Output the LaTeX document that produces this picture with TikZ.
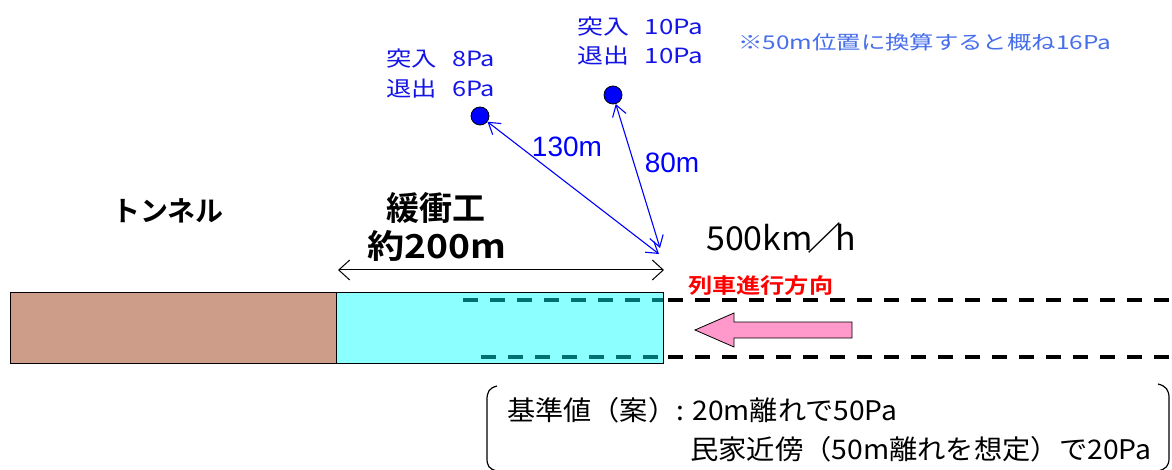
\documentclass[tikz,border=0pt]{standalone}
\usepackage{fontspec}
\setmainfont{Liberation Sans}
\newfontfamily\jp{Noto Sans CJK JP}[BoldFont={Noto Sans CJK JP Bold}]
\usetikzlibrary{arrows.meta}
\definecolor{tunnelc}{RGB}{205,157,137}
\definecolor{bufferc}{RGB}{140,255,255}
\definecolor{tealc}{RGB}{0,112,112}
\definecolor{lblue}{RGB}{20,20,230}
\definecolor{nblue}{RGB}{70,110,235}
\definecolor{pinkc}{RGB}{255,153,204}
\definecolor{redc}{RGB}{255,0,0}
\newcommand{\fitw}[3]{\resizebox{#1}{\height}{\jp\fontsize{#2}{#2}\selectfont #3}}
\tikzset{
  blockbox/.style={draw=black, line width=1pt, inner sep=0pt, anchor=north west},
  dashln/.style={line width=4pt, dash pattern=on 15pt off 12pt},
  lbl/.style={inner sep=0pt, anchor=west, text=lblue},
  dist/.style={inner sep=0pt, text=blue, font=\fontsize{28}{28}\selectfont},
  dot/.style={circle, draw=black, fill=blue, line width=0.8pt, minimum size=18pt, inner sep=0pt},
  distarrow/.style={blue, line width=1.1pt, {Straight Barb[length=11pt,width=14pt]}-{Straight Barb[length=11pt,width=14pt]}},
  bigjp/.style={inner sep=0pt, anchor=center, font=\jp\bfseries\fontsize{33}{33}\selectfont},
}
\begin{document}
\begin{tikzpicture}[x=1pt,y=-1pt]
\useasboundingbox (0,0) rectangle (1172,470);
\fill[white] (0,0) rectangle (1172,470);
% tunnel and buffer
\node[blockbox, fill=tunnelc, minimum width=326pt, minimum height=71pt] (tunnel) at (10,292) {};
\node[blockbox, fill=bufferc, minimum width=327pt, minimum height=71pt] (buffer) at (336,292) {};
% track lines
\coordinate (t1) at (463,300); \coordinate (t2) at (663,300);
\coordinate (t3) at (668,300); \coordinate (t4) at (1172,300);
\coordinate (b1) at (481,357); \coordinate (b2) at (663,357);
\coordinate (b3) at (668,357); \coordinate (b4) at (1172,357);
\draw[dashln, tealc] (t1) -- (t2);
\draw[dashln, tealc] (b1) -- (b2);
\draw[dashln, black] (t3) -- (t4);
\draw[dashln, black] (b3) -- (b4);
% pink arrow
\draw[fill=pinkc, draw=black, line width=0.8pt]
  (852,322) -- (734,322) -- (734,313) -- (695,330) -- (734,347) -- (734,338) -- (852,338) -- cycle;
\node[inner sep=0pt, text=redc, anchor=west] (dir) at (688,286)
  {\resizebox{145pt}{\height}{\jp\bfseries\fontsize{21}{21}\selectfont 列車進行方向}};
% labels
\node[bigjp] (tn) at (168,211) {\fontsize{28}{28}\selectfont トンネル};
\node[bigjp] (kk) at (436,208) {緩衝工};
\node[bigjp] (km) at (437,246) {\resizebox{139pt}{\height}{約200m}};
\node[inner sep=0pt, anchor=west] (spd) at (706,238)
  {\resizebox{150pt}{\height}{\jp\fontsize{33}{33}\selectfont 500km\hspace{-5pt}／\hspace{-6pt}h}};
% span arrow
\coordinate (a1) at (338,270); \coordinate (a2) at (664,270);
\draw[line width=1pt, {Straight Barb[length=11pt,width=20pt]}-{Straight Barb[length=11pt,width=20pt]}] (a1) -- (a2);
% measuring points
\node[dot] (d1) at (480,116) {};
\node[dot] (d2) at (613,95) {};
\coordinate (p1) at (659,254);
\coordinate (p2) at (660,248);
\draw[distarrow] (d1) -- (p1);
\draw[distarrow] (d2) -- (p2);
\node[dist] (l130) at (567,147) {130m};
\node[dist] (l80) at (672,163) {80m};
\node[lbl] (s1a) at (386,59) {\fitw{109pt}{21}{突入\hspace{0.6em}8Pa}};
\node[lbl] (s1b) at (386,89) {\fitw{109pt}{21}{退出\hspace{0.6em}6Pa}};
\node[lbl] (s2a) at (577,27) {\fitw{126pt}{21}{突入\hspace{0.6em}10Pa}};
\node[lbl] (s2b) at (577,56) {\fitw{126pt}{21}{退出\hspace{0.6em}10Pa}};
\node[inner sep=0pt, anchor=west, text=nblue] (note) at (738,42)
  {\fitw{373pt}{19}{※50m位置に換算すると概ね16Pa}};
% criterion bracket
\draw[line width=1.2pt] (497,386) .. controls (489,388) and (487,392) .. (487,400) -- (487,458) .. controls (487,466) and (489,469) .. (497,471);
\draw[line width=1.2pt] (1158,384) .. controls (1166,386) and (1169,390) .. (1169,398) -- (1169,458) .. controls (1169,466) and (1166,469) .. (1158,471);
\node[inner sep=0pt, anchor=west] (c1) at (507,410)
  {\fitw{390pt}{27}{基準値（案）: 20m離れで50Pa}};
\node[inner sep=0pt, anchor=west] (c2) at (690,449)
  {\fitw{461pt}{27}{民家近傍（50m離れを想定）で20Pa}};
\end{tikzpicture}
\end{document}
